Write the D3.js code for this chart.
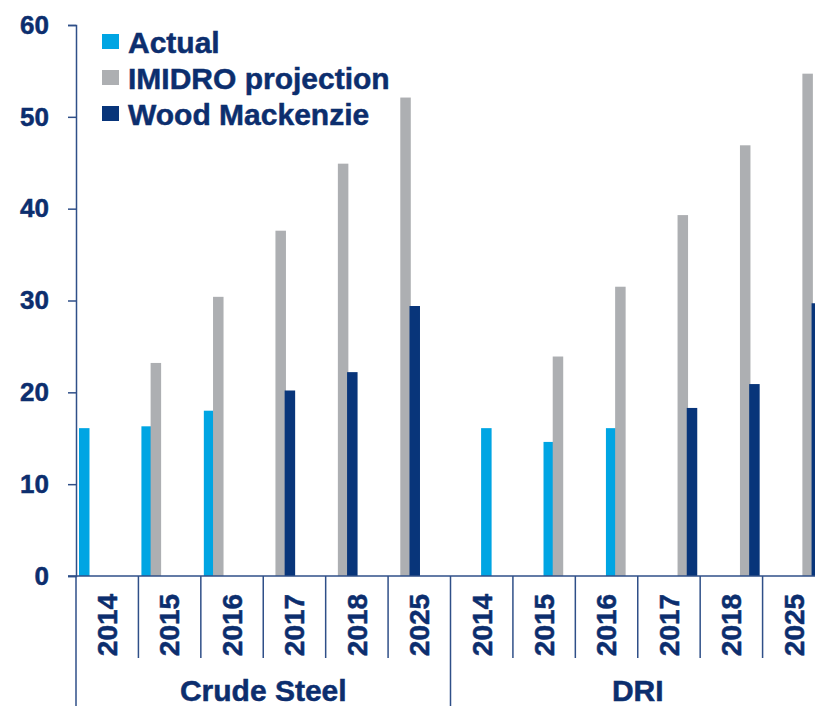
<!DOCTYPE html>
<html>
<head>
<meta charset="utf-8">
<script src="https://cdn.jsdelivr.net/npm/d3@7"></script>
<style>
  html, body { margin: 0; padding: 0; background: #fff; }
  svg { display: block; overflow: hidden; }
  text { font-family: "Liberation Sans", Arial, sans-serif; font-weight: bold; fill: #0c2e6e; stroke: #0c2e6e; stroke-width: 0.5px; }
</style>
</head>
<body>
<div id="chart"></div>
<script>
// chart values
var groups = ["Crude Steel", "DRI"];
var years = ["2014", "2015", "2016", "2017", "2018", "2025"];
var seriesNames = ["Actual", "IMIDRO projection", "Wood Mackenzie"];
var seriesColors = ["#00a5e3", "#adafb2", "#08357a"];

var steelActual = [16.1, 16.3, 18.0, null, null, null];
var steelImidro = [null, 23.2, 30.4, 37.6, 44.9, 52.1];
var steelWoodMac = [null, null, null, 20.2, 22.2, 29.4];
var driActual = [16.1, 14.6, 16.1, null, null, null];
var driImidro = [null, 23.9, 31.5, 39.3, 46.9, 54.7];
var driWoodMac = [null, null, null, 18.3, 20.9, 29.7];

var yTicks = [0, 10, 20, 30, 40, 50, 60];

var svgWidth = 815;
var svgHeight = 706;

// plot area (right edge runs past the picture)
var plot = { left: 76, right: 825, top: 25, bottom: 576 };
var axisColor = "#2f4f88";

var svg = d3.select("#chart")
  .append("svg")
  .attr("width", svgWidth)
  .attr("height", svgHeight);

// build flat rows for the bars
var table = [
  [steelActual, steelImidro, steelWoodMac],
  [driActual, driImidro, driWoodMac]
];
var keys = [];
var bars = [];
groups.forEach(function(g, gi) {
  years.forEach(function(yr, yi) {
    var key = g + "|" + yr;
    keys.push(key);
    table[gi].forEach(function(vals, si) {
      if (vals[yi] != null) {
        bars.push({ key: key, slot: gi * 3 + si, series: si, value: vals[yi] });
      }
    });
  });
});

var x0 = d3.scaleBand().domain(keys).range([plot.left, plot.right]).padding(0);
var x1 = d3.scaleBand().domain(d3.range(6)).range([3, 58.2]).padding(0);
var barWidth = 10.5;

var y = d3.scaleLinear().domain([0, 60]).range([plot.bottom, plot.top]);

// bars
svg.append("g").selectAll("rect")
  .data(bars)
  .enter()
  .append("rect")
  .attr("x", d => x0(d.key) + x1(d.slot))
  .attr("y", d => y(d.value))
  .attr("width", barWidth)
  .attr("height", d => y(0) - y(d.value))
  .attr("fill", d => seriesColors[d.series]);

// y axis
var leftAxis = d3.axisLeft(y)
  .tickValues(yTicks)
  .tickSize(8)
  .tickPadding(19);
var yAxis = svg.append("g")
  .attr("transform", `translate(${plot.left}, 0)`)
  .call(leftAxis);
yAxis.select(".domain").attr("stroke", axisColor).attr("stroke-width", 1.5);
yAxis.selectAll(".tick line").attr("stroke", axisColor).attr("stroke-width", 1.5);
yAxis.selectAll(".tick text")
  .attr("font-size", "26px")
  .attr("font-family", null)
  .attr("fill", null);

// x axis line
svg.append("line")
  .attr("x1", plot.left - 8)
  .attr("x2", svgWidth)
  .attr("y1", plot.bottom)
  .attr("y2", plot.bottom)
  .attr("stroke", axisColor)
  .attr("stroke-width", 1.5);

// category dividers
var step = x0.step();
var dividers = d3.range(keys.length + 1);
svg.append("g").selectAll("line")
  .data(dividers)
  .enter()
  .append("line")
  .attr("x1", i => plot.left + i * step)
  .attr("x2", i => plot.left + i * step)
  .attr("y1", plot.bottom)
  .attr("y2", i => (i % years.length === 0) ? svgHeight : 658)
  .attr("stroke", axisColor)
  .attr("stroke-width", 1.5);

// year labels
svg.append("g").selectAll("text")
  .data(keys)
  .enter()
  .append("text")
  .attr("transform", d => `translate(${x0(d) + x0.bandwidth() / 2}, 625) rotate(-90)`)
  .attr("text-anchor", "middle")
  .attr("dy", "0.35em")
  .attr("font-size", "28px")
  .text(d => d.split("|")[1]);

// group labels
svg.append("g").selectAll("text")
  .data(groups)
  .enter()
  .append("text")
  .attr("x", (g, gi) => plot.left + (gi * years.length + years.length / 2) * step)
  .attr("y", 701)
  .attr("text-anchor", "middle")
  .attr("font-size", "30px")
  .text(d => d);

// legend
var legend = svg.append("g").attr("transform", "translate(102, 42)");
var items = legend.selectAll("g")
  .data(seriesNames)
  .enter()
  .append("g")
  .attr("transform", (d, i) => `translate(0, ${i * 36})`);
items.append("rect")
  .attr("x", 0)
  .attr("y", -8)
  .attr("width", 17)
  .attr("height", 15)
  .attr("fill", (d, i) => seriesColors[i]);
items.append("text")
  .attr("x", 26)
  .attr("y", 0)
  .attr("dy", "0.35em")
  .attr("font-size", "30px")
  .text(d => d);
</script>
</body>
</html>
